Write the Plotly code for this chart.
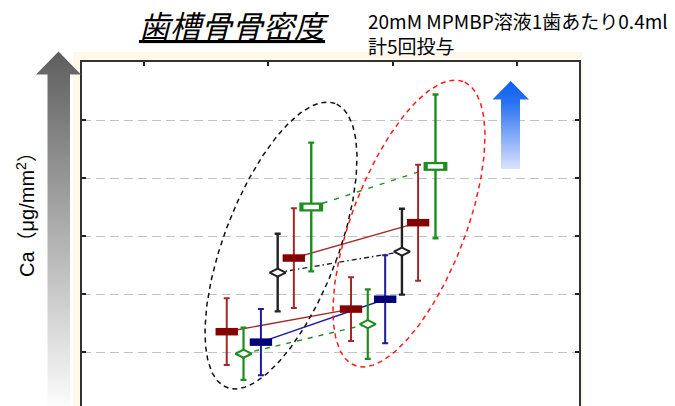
import numpy as np
import plotly.graph_objects as go

# ---- data -------------------------------------------------------------
# two measurement time points on the category axis
timepoints = [1, 2]

# Ca density, mean and SD for each group (grid units)
red_a_mean = [1.35, 1.74]
red_a_sd = [0.575, 0.55]
green_a_mean = [0.97, 1.48]
green_a_sd = [0.45, 0.60]
blue_mean = [1.17, 1.91]
blue_sd = [0.57, 0.76]
black_mean = [2.37, 2.73]
black_sd = [0.67, 0.74]
red_b_mean = [2.62, 3.23]
red_b_sd = [0.86, 1.00]
green_b_mean = [3.50, 4.20]
green_b_sd = [1.11, 1.24]

y_tickvals = [1, 2, 3, 4, 5, 6]
x_tickvals = [0, 1, 2, 3]

# ---- styles -----------------------------------------------------------
W, H = 675, 406
PLOT_L, PLOT_R, PLOT_T = 82, 579, 62

groups = [
    # mean, sd, dodge, line color, marker kind, marker color, dash, err width
    (red_a_mean, red_a_sd, -0.335, "#a3282a", "rect", "#850000", "solid", 2),
    (green_a_mean, green_a_sd, -0.20, "#1e8c1e", "diamond", "#1e8c1e", "5px,6px", 2.2),
    (blue_mean, blue_sd, -0.06, "#1c1c9c", "rect", "#00007a", "solid", 2),
    (black_mean, black_sd, 0.075, "#222222", "diamond", "#222222", "5px,3px,1.5px,3px", 2.4),
    (red_b_mean, red_b_sd, 0.205, "#a3282a", "rect", "#850000", "solid", 2),
    (green_b_mean, green_b_sd, 0.345, "#1e8c1e", "openrect", "#1e8c1e", "5px,7px", 2.4),
]

fig = go.Figure()

# connecting lines first so the error bars and markers sit above them
for mean, sd, dodge, lc, kind, mc, dash, ew in groups:
    xs = [t + dodge for t in timepoints]
    fig.add_trace(go.Scatter(
        x=xs, y=mean, mode="lines",
        line=dict(color=lc, width=1.4, dash=dash),
        hoverinfo="skip", showlegend=False,
    ))

for mean, sd, dodge, lc, kind, mc, dash, ew in groups:
    xs = [t + dodge for t in timepoints]
    if kind == "rect":
        marker = dict(symbol="line-ew", size=16, color=mc,
                      line=dict(color=mc, width=7.5))
    elif kind == "diamond":
        marker = dict(symbol="diamond-wide", size=11.5, color="white",
                      line=dict(color=mc, width=2))
    else:
        marker = dict(symbol="line-ew", size=17, color=mc,
                      line=dict(color=mc, width=9))
    fig.add_trace(go.Scatter(
        x=xs, y=mean, mode="markers",
        marker=marker,
        error_y=dict(type="data", array=sd, visible=True,
                     color=lc, thickness=ew, width=3),
        hoverinfo="skip", showlegend=False,
    ))
    if kind == "openrect":
        # hollow centre of the open rectangle marker
        fig.add_trace(go.Scatter(
            x=xs, y=mean, mode="markers",
            marker=dict(symbol="line-ew", size=11, color="white",
                        line=dict(color="white", width=4.5)),
            hoverinfo="skip", showlegend=False,
        ))

# small blue dots just left of the y axis at each tick level
fig.add_trace(go.Scatter(
    x=[-0.556] * len(y_tickvals), y=y_tickvals, mode="markers",
    marker=dict(symbol="circle", size=3, color="#4aa3ee"),
    cliponaxis=False, hoverinfo="skip", showlegend=False,
))

# ---- decorations on a full-page pixel overlay ------------------------
def ellipse(cx, cy, a, b, theta_deg, n=240):
    t = np.linspace(0, 2 * np.pi, n)
    th = np.radians(theta_deg)
    x = cx + a * np.cos(th) * np.cos(t) - b * np.sin(th) * np.sin(t)
    y_up = a * np.sin(th) * np.cos(t) + b * np.cos(th) * np.sin(t)
    return x, cy - y_up

for (cx, cy), col in [((281, 245.5), "#111111"), ((409, 223.5), "#ff1a1a")]:
    ex, ey = ellipse(cx, cy, 152, 57, 69.1)
    fig.add_trace(go.Scatter(
        x=ex, y=ey, mode="lines", xaxis="x2", yaxis="y2",
        line=dict(color=col, width=1.5, dash="5px,4px"),
        hoverinfo="skip", showlegend=False,
    ))

# grey "higher is more" arrow at the left
gx = [58.5, 81, 70, 70, 47.5, 47.5, 36, 58.5]
gy = [51.5, 74.5, 74.5, 410, 410, 74.5, 74.5, 51.5]
fig.add_trace(go.Scatter(
    x=gx, y=gy, mode="lines", fill="toself", xaxis="x2", yaxis="y2",
    line=dict(width=0, color="rgba(0,0,0,0)"),
    fillgradient=dict(type="vertical", start=52, stop=406,
                      colorscale=[[0, "#5e5e5e"], [1, "#fcfcfc"]]),
    hoverinfo="skip", showlegend=False,
))

# blue arrow at the upper right
bx = [510.7, 529, 520, 520, 501, 501, 492.5, 510.7]
by = [81, 99.5, 99.5, 169, 169, 99.5, 99.5, 81]
fig.add_trace(go.Scatter(
    x=bx, y=by, mode="lines", fill="toself", xaxis="x2", yaxis="y2",
    line=dict(width=0, color="rgba(0,0,0,0)"),
    fillgradient=dict(type="vertical", start=81, stop=169,
                      colorscale=[[0, "#0a5ff2"], [0.25, "#2a72f2"],
                                  [1, "#dbe3fc"]]),
    hoverinfo="skip", showlegend=False,
))

# ---- layout -----------------------------------------------------------
y_lo = 6 - (H - PLOT_T) / 58.0
fig.update_layout(
    width=W, height=H,
    margin=dict(l=0, r=0, t=0, b=0),
    paper_bgcolor="white",
    plot_bgcolor="rgba(0,0,0,0)",
    hovermode=False,
    showlegend=False,
    xaxis=dict(
        domain=[PLOT_L / W, PLOT_R / W], range=[-0.5, 3.5],
        side="top", anchor="y",
        tickvals=x_tickvals, showticklabels=False,
        ticks="inside", ticklen=4, tickwidth=1.5, tickcolor="#222",
        showline=True, linecolor="#333", linewidth=2, mirror=False,
        showgrid=False, zeroline=False, fixedrange=True,
    ),
    yaxis=dict(
        domain=[0, 1 - PLOT_T / H], range=[y_lo, 6], anchor="x",
        tickvals=y_tickvals, showticklabels=False,
        ticks="inside", ticklen=4, tickwidth=1.5, tickcolor="#222",
        showline=True, linecolor="#333", linewidth=2, mirror="ticks",
        showgrid=True, gridcolor="#c2c2c2", gridwidth=1.3,
        griddash="9px,5px", zeroline=False, fixedrange=True,
    ),
    xaxis2=dict(domain=[0, 1], range=[0, W], anchor="y2", visible=False,
                fixedrange=True),
    yaxis2=dict(domain=[0, 1], range=[H, 0], anchor="x2", visible=False,
                fixedrange=True),
    shapes=[
        dict(type="rect", xref="paper", yref="paper", layer="below",
             x0=73 / W, x1=583 / W, y0=0, y1=1 - 52 / H,
             fillcolor="#fff9ec", line=dict(width=0)),
        dict(type="rect", xref="paper", yref="paper", layer="below",
             x0=PLOT_L / W, x1=PLOT_R / W, y0=0, y1=1 - PLOT_T / H,
             fillcolor="white", line=dict(width=0)),
    ],
    annotations=[
        dict(text="<i><u>歯槽骨骨密度</u></i>", xref="paper", yref="paper",
             x=234 / W, y=1 - 25 / H, xanchor="center", yanchor="middle",
             showarrow=False,
             font=dict(family="Noto Sans CJK JP", size=31, color="black")),
        dict(text="20mM MPMBP溶液1歯あたり0.4ml<br>計5回投与",
             xref="paper", yref="paper", align="left",
             x=366 / W, y=1 - 33 / H, xanchor="left", yanchor="middle",
             showarrow=False,
             font=dict(family="Noto Sans CJK JP", size=19, color="black")),
        dict(text="Ca（μg/mm<sup>2</sup>）", xref="paper", yref="paper",
             x=25 / W, y=1 - 210 / H, xanchor="center", yanchor="middle",
             textangle=-90, showarrow=False,
             font=dict(family="Liberation Sans, Noto Sans CJK JP", size=20,
                       color="black")),
    ],
)

fig.write_html("out.html")
